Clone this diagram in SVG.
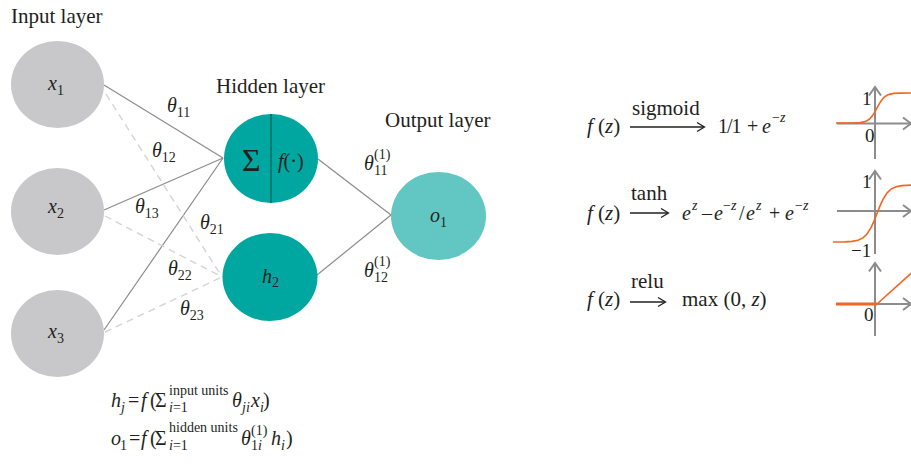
<svg xmlns="http://www.w3.org/2000/svg" width="911" height="464" viewBox="0 0 911 464">
<style>
text{font-family:"Liberation Serif","Times New Roman",serif;fill:#231f20;}
.lbl{font-size:21px;}
.v{font-size:20px;font-style:italic;}
.u{font-size:20px;}
.s{font-size:14px;}
.si{font-size:14px;font-style:italic;}
.gl{font-size:19px;}
.in{fill:#c8c8ca;}
.hid{fill:#00a6a0;}
.out{fill:#62c7c2;}
.solid{stroke:#8c8c8c;stroke-width:1.2;fill:none;}
.dash{stroke:#d4d4d4;stroke-width:1.4;fill:none;stroke-dasharray:7 5;}
.ax{stroke:#8c8c8c;stroke-width:2;fill:none;}
.cv{stroke:#f26522;stroke-width:1.6;fill:none;}
.arr{stroke:#231f20;stroke-width:1.3;fill:none;}
</style>

<text class="lbl" x="11" y="23">Input layer</text>
<text class="lbl" x="216" y="93">Hidden layer</text>
<text class="lbl" x="385" y="127">Output layer</text>

<g id="connectors">
<line class="solid" x1="104" y1="85" x2="223" y2="158"/>
<line class="solid" x1="104" y1="210" x2="223" y2="158"/>
<line class="solid" x1="104" y1="330" x2="223" y2="158"/>
<line class="dash" x1="106" y1="94" x2="222" y2="277"/>
<line class="dash" x1="105" y1="216" x2="222" y2="277"/>
<line class="dash" x1="105" y1="332" x2="222" y2="277"/>
<line class="solid" x1="318" y1="159" x2="391" y2="215"/>
<line class="solid" x1="317" y1="275" x2="391" y2="215"/>
</g>

<g id="weights">
<text class="v" x="167" y="112">θ<tspan class="s" font-style="normal" dy="5">11</tspan></text>
<text class="v" x="152" y="157">θ<tspan class="s" font-style="normal" dy="5">12</tspan></text>
<text class="v" x="135" y="213">θ<tspan class="s" font-style="normal" dy="5">13</tspan></text>
<text class="v" x="200" y="229">θ<tspan class="s" font-style="normal" dy="5">21</tspan></text>
<text class="v" x="168" y="275">θ<tspan class="s" font-style="normal" dy="5">22</tspan></text>
<text class="v" x="180" y="315">θ<tspan class="s" font-style="normal" dy="5">23</tspan></text>
<text class="v" x="364" y="170">θ</text>
<text class="s" x="374" y="159">(1)</text>
<text class="s" x="374" y="175">11</text>
<text class="v" x="364" y="277">θ</text>
<text class="s" x="374" y="266">(1)</text>
<text class="s" x="374" y="282">12</text>
</g>

<g id="x1">
<ellipse class="in" cx="57.5" cy="84.5" rx="46.5" ry="43.5"/>
<text class="v" x="48" y="90">x<tspan class="s" font-style="normal" dy="5">1</tspan></text>
</g>
<g id="x2">
<ellipse class="in" cx="57.5" cy="211.5" rx="46.5" ry="43.5"/>
<text class="v" x="48" y="213">x<tspan class="s" font-style="normal" dy="5">2</tspan></text>
</g>
<g id="x3">
<ellipse class="in" cx="57.5" cy="333.5" rx="46.5" ry="43.5"/>
<text class="v" x="48" y="338">x<tspan class="s" font-style="normal" dy="5">3</tspan></text>
</g>

<g id="h1">
<ellipse class="hid" cx="271" cy="158.5" rx="47" ry="44.5"/>
<line x1="271" y1="114" x2="271" y2="203" stroke="#00706b" stroke-width="1.6"/>
<text x="242" y="171" font-size="32">Σ</text>
<text class="u" x="278" y="168"><tspan font-style="italic">f</tspan>(·)</text>
</g>
<g id="h2">
<ellipse class="hid" cx="270" cy="277" rx="47.5" ry="44"/>
<text class="v" x="262" y="283">h<tspan class="s" font-style="normal" dy="4">2</tspan></text>
</g>
<g id="o1">
<ellipse class="out" cx="438.5" cy="216" rx="47.5" ry="44"/>
<text class="v" x="430" y="222">o<tspan class="s" font-style="normal" dy="5">1</tspan></text>
</g>

<g id="formulas">
<text class="v" x="111" y="407">h</text>
<text class="si" x="121" y="412">j</text>
<text class="u" x="128" y="407">=</text>
<text class="v" x="141" y="407">f</text>
<text class="u" x="150" y="407">(</text>
<text class="u" x="155" y="407">Σ</text>
<text class="s" x="169" y="395">input units</text>
<text class="s" x="169" y="412"><tspan font-style="italic">i</tspan>=1</text>
<text class="v" x="232" y="407">θ</text>
<text class="si" x="242" y="412">ji</text>
<text class="v" x="251" y="407">x</text>
<text class="si" x="260" y="412">i</text>
<text class="u" x="263" y="407">)</text>

<text class="v" x="111" y="445">o</text>
<text class="s" x="120" y="450">1</text>
<text class="u" x="129" y="445">=</text>
<text class="v" x="141" y="445">f</text>
<text class="u" x="150" y="445">(</text>
<text class="u" x="155" y="445">Σ</text>
<text class="s" x="169" y="432">hidden units</text>
<text class="s" x="169" y="450"><tspan font-style="italic">i</tspan>=1</text>
<text class="v" x="241" y="445">θ</text>
<text class="s" x="251" y="435">(1)</text>
<text class="s" x="251" y="450">1<tspan font-style="italic">i</tspan></text>
<text class="v" x="271" y="445">h</text>
<text class="si" x="281" y="450">i</text>
<text class="u" x="286" y="445">)</text>
</g>

<g id="sigmoid">
<text class="lbl" x="587" y="133"><tspan font-style="italic">f</tspan> (<tspan font-style="italic">z</tspan>)</text>
<text class="lbl" x="632" y="115">sigmoid</text>
<line class="arr" x1="630" y1="127" x2="704" y2="127"/>
<polyline class="arr" points="697,122.5 704.5,127 697,131.5"/>
<text class="u" x="718" y="133" letter-spacing="-1">1/1</text>
<text class="u" x="747" y="133">+</text>
<text class="v" x="762" y="133">e</text>
<text class="s" x="772" y="122">−<tspan font-style="italic">z</tspan></text>
<line class="ax" x1="875" y1="87" x2="875" y2="159"/>
<polyline class="ax" points="869,95.5 875,87 881,95.5"/>
<line class="ax" x1="837" y1="123.5" x2="911" y2="123.5"/>
<polyline class="ax" points="903,117.5 911,123.5 903,129.5"/>
<polyline class="cv" points="836,123 855,122.88 860,122.58 864,121.88 867,120.72 870,118.56 872,116.32 874,113.38 876,109.87 878,106.14 880,102.62 882,99.68 884,97.44 887,95.28 890,94.12 894,93.42 900,93.1 911,93"/>
<text class="gl" x="862" y="105">1</text>
<text class="gl" x="865" y="142">0</text>
</g>

<g id="tanh">
<text class="lbl" x="587" y="220"><tspan font-style="italic">f</tspan> (<tspan font-style="italic">z</tspan>)</text>
<text class="lbl" x="631" y="200">tanh</text>
<line class="arr" x1="630" y1="213" x2="668" y2="213"/>
<polyline class="arr" points="661,208.5 668.5,213 661,217.5"/>
<text class="v" x="682" y="220">e</text>
<text class="si" x="692" y="210">z</text>
<text class="u" x="702" y="220">–</text>
<text class="v" x="714" y="220">e</text>
<text class="s" x="723" y="210">−<tspan font-style="italic">z</tspan></text>
<text class="u" x="739" y="220">/</text>
<text class="v" x="746" y="220">e</text>
<text class="si" x="756" y="210">z</text>
<text class="u" x="769" y="220">+</text>
<text class="v" x="785" y="220">e</text>
<text class="s" x="795" y="210">−<tspan font-style="italic">z</tspan></text>
<line class="ax" x1="875" y1="171" x2="875" y2="254"/>
<polyline class="ax" points="869,179.5 875,171 881,179.5"/>
<line class="ax" x1="837" y1="211" x2="911" y2="211"/>
<polyline class="ax" points="903,205 911,211 903,217"/>
<polyline class="cv" points="833,241.98 845,241.83 852,241.4 858,240.25 863,237.86 867,234.04 871,227.67 874,221.09 877,213.5 880,205.91 883,199.33 887,192.96 891,189.14 896,186.75 902,185.6 911,185.12"/>
<text class="gl" x="862" y="188">1</text>
<text class="gl" x="851" y="257">−1</text>
</g>

<g id="relu">
<text class="lbl" x="587" y="306"><tspan font-style="italic">f</tspan> (<tspan font-style="italic">z</tspan>)</text>
<text class="lbl" x="631" y="288">relu</text>
<line class="arr" x1="630" y1="302" x2="665" y2="302"/>
<polyline class="arr" points="658,297.5 665.5,302 658,306.5"/>
<text class="lbl" x="682" y="306">max (0, <tspan font-style="italic">z</tspan>)</text>
<line class="ax" x1="875" y1="263" x2="875" y2="336"/>
<polyline class="ax" points="869,271.5 875,263 881,271.5"/>
<line class="ax" x1="837" y1="304" x2="911" y2="304"/>
<polyline class="ax" points="903,298 911,304 903,310"/>
<line x1="836" y1="304" x2="877" y2="304" stroke="#f26522" stroke-width="3"/>
<line class="cv" x1="877" y1="304" x2="912" y2="272.5"/>
<text class="gl" x="864" y="321">0</text>
</g>
</svg>
